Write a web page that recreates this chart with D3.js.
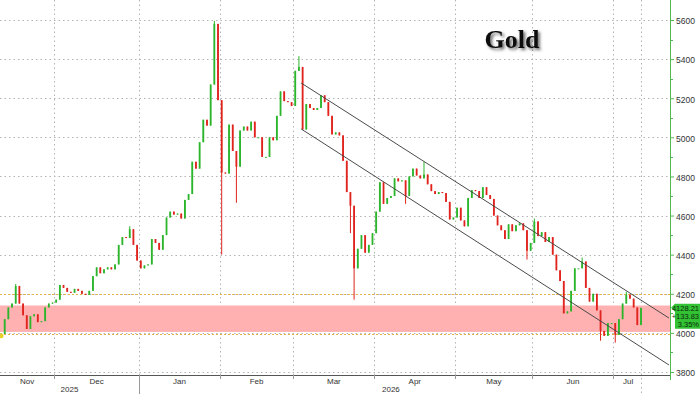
<!DOCTYPE html>
<html>
<head>
<meta charset="utf-8">
<script src="https://cdn.jsdelivr.net/npm/d3@7"></script>
<style>
  html, body { margin: 0; padding: 0; background: #fff; }
  svg { display: block; }
</style>
</head>
<body>
<div id="chart"></div>
<script>
// ------------------------------
// Data
// ------------------------------

// Months on the x axis and how many weekday bars each one holds
const monthNames = ["Nov", "Dec", "Jan", "Feb", "Mar", "Apr", "May", "Jun", "Jul"];
const monthBars = [15, 23, 22, 20, 22, 22, 21, 22, 8];
const yearNames = ["2025", "2026"];
const yearFirstMonth = [0, 2];

// Daily closes of gold (open of each bar = previous close)
const firstOpen = 3985;
const closes = [
  3995, 4070, 4130, 4150, 4240, 4150, 4090, 4020, 4085, 4095,
  4055, 4060, 4130, 4150, 4155, 4170, 4245, 4230, 4210, 4205,
  4225, 4215, 4200, 4195, 4215, 4290, 4335, 4305, 4325, 4335,
  4325, 4350, 4450, 4490, 4485, 4530, 4450, 4370, 4330, 4345,
  4350, 4480, 4460, 4425, 4500, 4590, 4620, 4605, 4610, 4585,
  4680, 4710, 4875, 4840, 4975, 5090, 5060, 5270, 5580, 5190,
  4820, 4815, 5065, 4930, 4850, 5035, 5055, 5035, 5080, 5000,
  5000, 4900, 4900, 5000, 4985, 5110, 5235, 5185, 5180, 5160,
  5340, 5360, 5040, 5170, 5150, 5140, 5150, 5215, 5180, 5110,
  5015, 5025, 5010, 4880, 4720, 4650, 4330, 4430, 4500, 4410,
  4450, 4510, 4620, 4770, 4660, 4690, 4700, 4790, 4775, 4780,
  4700, 4800, 4840, 4805, 4790, 4810, 4760, 4725, 4710, 4720,
  4715, 4670, 4580, 4590, 4640, 4575, 4545, 4690, 4730, 4725,
  4690, 4745, 4705, 4685, 4600, 4550, 4525, 4480, 4555, 4520,
  4550, 4560, 4525, 4420, 4460, 4570, 4495, 4515, 4465, 4490,
  4400, 4320, 4265, 4100, 4110, 4215, 4330, 4330, 4365, 4230,
  4160, 4200, 4115, 4010, 3985, 4050, 4050, 3990, 4070, 4150,
  4195, 4175, 4130, 4040, 4128.21
];

// Intraday extremes that stick out of the bodies: [bar index, price]
const spikeHighs = [[4, 4250], [35, 4545], [58, 5595], [81, 5415], [115, 4875], [145, 4585], [158, 4385], [170, 4210]];
const spikeLows = [[0, 3975], [60, 4400], [64, 4665], [95, 4510], [96, 4170], [110, 4660], [143, 4375], [163, 3960], [167, 3950]];

// Y axis ticks
const yTicks = [3800, 4000, 4200, 4400, 4600, 4800, 5000, 5200, 5400, 5600];
const yMinorTicks = [3900, 4100, 4300, 4500, 4700, 4900, 5100, 5300, 5500];

// Support zone and its dotted guide levels
const zoneLow = 4005;
const zoneHigh = 4140;
const guideLevels = [3995, 4200];

// Falling channel: [bar index, price] at both ends
const channelUpper = [[81.6, 5278], [181.6, 4076]];
const channelLower = [[81.6, 5043], [181.6, 3836]];

// Last price tag
const lastPrice = "4128.21";
const lastChange = "+133.83";
const lastPct = "3.35%";

// ------------------------------
// Chart
// ------------------------------

const width = 700;
const height = 394;
const plotRight = 670;
const axisY = 375;
const labelFont = "Liberation Sans, Arial, sans-serif";

const svg = d3.select("#chart").append("svg").attr("width", width).attr("height", height);

const nBars = closes.length;
const x = d3.scaleLinear().domain([0, nBars - 1]).range([1, 641]);
const y = d3.scaleLinear().domain([3800, 5600]).range([372, 20]);

// Title shadow
const defs = svg.append("defs");
const shadow = defs.append("filter").attr("id", "shadow").attr("x", "-20%").attr("y", "-30%").attr("width", "150%").attr("height", "170%");
shadow.append("feDropShadow").attr("dx", 2).attr("dy", 2).attr("stdDeviation", 1.6).attr("flood-color", "#444").attr("flood-opacity", 0.8);

// Month boundaries in bar units
const monthStarts = [];
let acc = 0;
monthBars.forEach((n) => { monthStarts.push(acc); acc += n; });
const bounds = monthStarts.map((s) => s - 0.5).concat([nBars - 0.5]);

// Horizontal dotted gridlines
svg.append("g")
  .selectAll("line")
  .data(yTicks)
  .join("line")
  .attr("x1", 0).attr("x2", plotRight)
  .attr("y1", (d) => Math.round(y(d)) + 0.5).attr("y2", (d) => Math.round(y(d)) + 0.5)
  .attr("stroke", "#b4b4b4").attr("stroke-dasharray", "1.5,3");

// Vertical dotted gridlines at month starts
svg.append("g")
  .selectAll("line")
  .data(bounds.slice(1, -1))
  .join("line")
  .attr("x1", (d) => Math.round(x(d)) + 0.5).attr("x2", (d) => Math.round(x(d)) + 0.5)
  .attr("y1", 0).attr("y2", axisY)
  .attr("stroke", "#b4b4b4").attr("stroke-dasharray", "1.5,3");

// Last-date marker line
svg.append("line")
  .attr("x1", Math.round(x(nBars - 1)) + 0.5).attr("x2", Math.round(x(nBars - 1)) + 0.5)
  .attr("y1", 0).attr("y2", height)
  .attr("stroke", "#b4b4b4").attr("stroke-dasharray", "1.5,3");

// Support zone
svg.append("rect")
  .attr("x", 0).attr("width", plotRight)
  .attr("y", y(zoneHigh)).attr("height", y(zoneLow) - y(zoneHigh))
  .attr("fill", "#ffb0b0");

svg.append("g")
  .selectAll("line")
  .data(guideLevels)
  .join("line")
  .attr("x1", 0).attr("x2", plotRight)
  .attr("y1", (d) => Math.round(y(d)) + 0.5).attr("y2", (d) => Math.round(y(d)) + 0.5)
  .attr("stroke", "#e3b44a").attr("stroke-dasharray", "2,2");

// Candles
const bars = closes.map((c, i) => {
  const o = i === 0 ? firstOpen : closes[i - 1];
  let hi = Math.max(o, c);
  let lo = Math.min(o, c);
  spikeHighs.forEach(([k, v]) => { if (k === i) hi = Math.max(hi, v); });
  spikeLows.forEach(([k, v]) => { if (k === i) lo = Math.min(lo, v); });
  return { i, o, c, hi, lo };
});

const upColor = "#2cb52c";
const downColor = "#e0231d";
const bodyW = 1.8;

const candles = svg.append("g");
candles.selectAll("line")
  .data(bars)
  .join("line")
  .attr("x1", (d) => x(d.i)).attr("x2", (d) => x(d.i))
  .attr("y1", (d) => y(d.hi)).attr("y2", (d) => y(d.lo))
  .attr("stroke", (d) => (d.c >= d.o ? upColor : downColor))
  .attr("stroke-width", 1);

candles.selectAll("rect")
  .data(bars)
  .join("rect")
  .attr("x", (d) => x(d.i) - bodyW / 2)
  .attr("width", bodyW)
  .attr("y", (d) => y(Math.max(d.o, d.c)))
  .attr("height", (d) => Math.max(1, Math.abs(y(d.o) - y(d.c))))
  .attr("fill", (d) => (d.c >= d.o ? upColor : downColor));

// Start marker
svg.append("circle")
  .attr("cx", x(0)).attr("cy", y(firstOpen)).attr("r", 2.5)
  .attr("fill", "#e9d12a");

// Channel lines
const line = d3.line().x((d) => x(d[0])).y((d) => y(d[1]));
[channelUpper, channelLower].forEach((c) => {
  svg.append("path").attr("d", line(c)).attr("fill", "none").attr("stroke", "#4a4a4a").attr("stroke-width", 1);
});

// Bottom axis
svg.append("line")
  .attr("x1", 0).attr("x2", plotRight)
  .attr("y1", axisY + 0.5).attr("y2", axisY + 0.5)
  .attr("stroke", "#555");

svg.append("g")
  .selectAll("line")
  .data(bounds.slice(1, -1))
  .join("line")
  .attr("x1", (d) => Math.round(x(d)) + 0.5).attr("x2", (d) => Math.round(x(d)) + 0.5)
  .attr("y1", axisY).attr("y2", (d, i) => (yearFirstMonth.includes(i + 1) ? height : axisY + 4))
  .attr("stroke", "#999");

const monthCenters = monthNames.map((m, i) => {
  const a = Math.max(0, x(bounds[i]));
  const b = Math.min(plotRight, x(bounds[i + 1]));
  return (a + b) / 2;
});

svg.append("g")
  .selectAll("text")
  .data(monthNames)
  .join("text")
  .attr("x", (d, i) => monthCenters[i])
  .attr("y", 384)
  .attr("text-anchor", "middle")
  .attr("font-family", labelFont)
  .attr("font-size", 8)
  .attr("fill", "#333")
  .text((d) => d);

svg.append("g")
  .selectAll("text")
  .data(yearNames)
  .join("text")
  .attr("x", (d, i) => {
    const a = Math.max(0, x(bounds[yearFirstMonth[i]]));
    const endMonth = i + 1 < yearFirstMonth.length ? yearFirstMonth[i + 1] : monthNames.length;
    const b = x(bounds[endMonth]);
    return (a + b) / 2;
  })
  .attr("y", 392)
  .attr("text-anchor", "middle")
  .attr("font-family", labelFont)
  .attr("font-size", 8)
  .attr("fill", "#333")
  .text((d) => d);

// Right axis
svg.append("line")
  .attr("x1", plotRight + 0.5).attr("x2", plotRight + 0.5)
  .attr("y1", 0).attr("y2", 380)
  .attr("stroke", "#52b852");

svg.append("g")
  .selectAll("line")
  .data(yMinorTicks)
  .join("line")
  .attr("x1", plotRight).attr("x2", plotRight + 3)
  .attr("y1", (d) => Math.round(y(d)) + 0.5).attr("y2", (d) => Math.round(y(d)) + 0.5)
  .attr("stroke", "#52b852");

const yAxis = svg.append("g")
  .attr("transform", `translate(${plotRight},0)`)
  .call(d3.axisRight(y).tickValues(yTicks).tickSize(4).tickFormat(d3.format("d")));
yAxis.select(".domain").remove();
yAxis.selectAll(".tick line").attr("stroke", "#52b852");
yAxis.selectAll(".tick text")
  .attr("x", 6)
  .attr("dy", "0.45em")
  .attr("fill", "#333")
  .attr("font-family", labelFont)
  .attr("font-size", 8.5);

// Last price tag
const tagY = y(+lastPrice);
const tagTop = tagY - 4;
const tagBottom = tagY + 21;
const tag = svg.append("g");
tag.append("path")
  .attr("d", `M${plotRight + 1},${tagY} L${plotRight + 5},${tagTop} L700,${tagTop} L700,${tagBottom} L${plotRight + 5},${tagBottom} L${plotRight + 5},${tagY + 4} Z`)
  .attr("fill", "#33c233");
tag.selectAll("text")
  .data([lastPrice, lastChange, lastPct])
  .join("text")
  .attr("x", 699)
  .attr("y", (d, i) => tagY + 3 + i * 8)
  .attr("text-anchor", "end")
  .attr("font-family", labelFont)
  .attr("font-size", 7.5)
  .attr("fill", "#0d2a0d")
  .text((d) => d);

// Title
svg.append("text")
  .attr("x", 512)
  .attr("y", 48)
  .attr("text-anchor", "middle")
  .attr("font-family", "Liberation Serif, Times New Roman, serif")
  .attr("font-weight", "bold")
  .attr("font-size", 26)
  .attr("fill", "#111")
  .attr("filter", "url(#shadow)")
  .text("Gold");
</script>
</body>
</html>
